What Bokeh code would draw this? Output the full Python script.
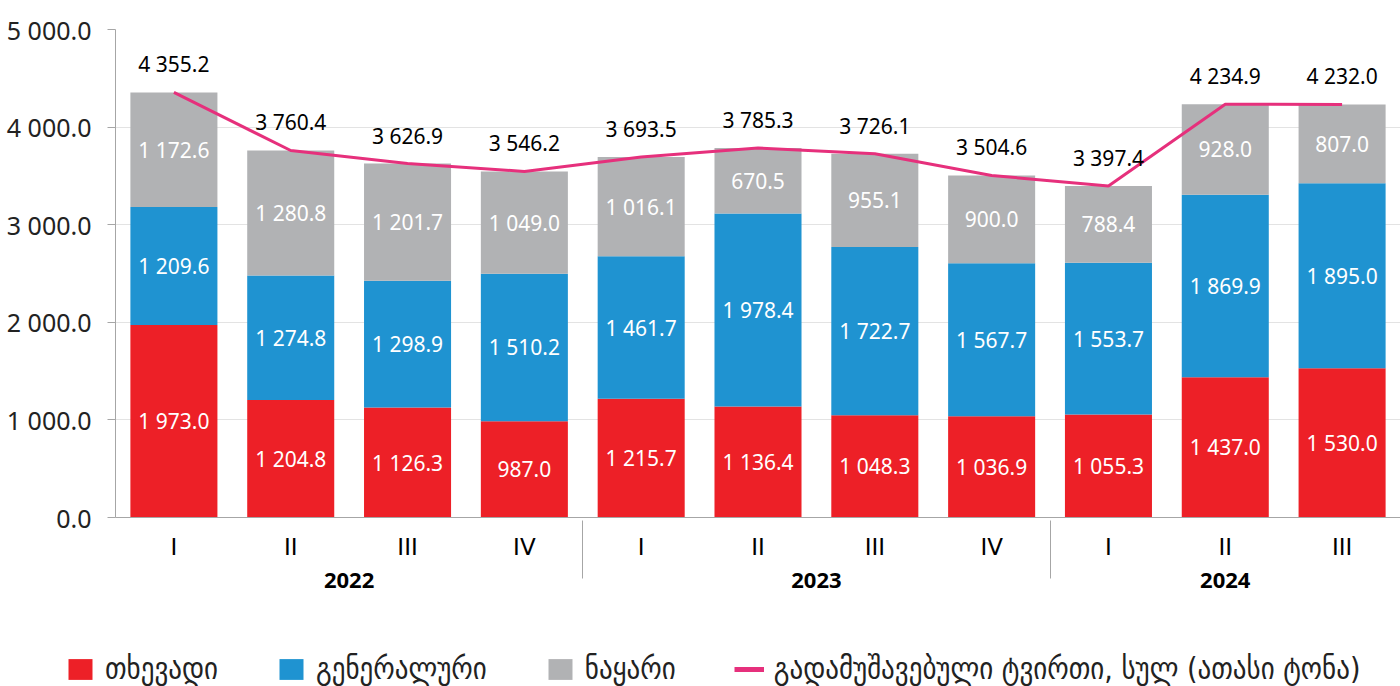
from bokeh.plotting import figure
from bokeh.models import FactorRange, ColumnDataSource, FixedTicker, CustomJSTickFormatter, Legend, LegendItem, Range1d
from bokeh.layouts import column, row
from bokeh.core.properties import value
from bokeh.embed import file_html
from bokeh.resources import INLINE

years = ["2022"] * 4 + ["2023"] * 4 + ["2024"] * 3
quarters = ["I", "II", "III", "IV", "I", "II", "III", "IV", "I", "II", "III"]
liquid = [1973.0, 1204.8, 1126.3, 987.0, 1215.7, 1136.4, 1048.3, 1036.9, 1055.3, 1437.0, 1530.0]
general = [1209.6, 1274.8, 1298.9, 1510.2, 1461.7, 1978.4, 1722.7, 1567.7, 1553.7, 1869.9, 1895.0]
bulk = [1172.6, 1280.8, 1201.7, 1049.0, 1016.1, 670.5, 955.1, 900.0, 788.4, 928.0, 807.0]
total = [4355.2, 3760.4, 3626.9, 3546.2, 3693.5, 3785.3, 3726.1, 3504.6, 3397.4, 4234.9, 4232.0]
series_names = ["თხევადი", "გენერალური", "ნაყარი", "გადამუშავებული ტვირთი, სულ (ათასი ტონა)"]

RED, BLUE, GRAY, PINK = "#ED2027", "#1F93D1", "#B1B2B4", "#E6307C"
NUM_FONT = "Noto Sans"
GEO_FONT = "'DejaVu Sans Condensed', 'DejaVu Sans'"
NAN = float("nan")


def fmt(v):
    return f"{v:,.1f}".replace(",", " ")


factors = list(zip(years, quarters))
x_range = FactorRange(*factors, group_padding=0, factor_padding=0, range_padding=0)

p = figure(x_range=x_range, y_range=Range1d(0, 5000), width=1400, height=640,
           output_backend="svg", toolbar_location=None,
           min_border_left=115, min_border_right=0, min_border_top=29, min_border_bottom=123)
p.outline_line_color = None
p.background_fill_color = "white"
p.border_fill_color = "white"

src = ColumnDataSource(dict(
    x=factors, liquid=liquid, general=general, bulk=bulk, total=total,
    y_l=[a / 2 for a in liquid],
    y_g=[a + b / 2 for a, b in zip(liquid, general)],
    y_b=[a + b + c / 2 for a, b, c in zip(liquid, general, bulk)],
    t_l=[fmt(v) for v in liquid], t_g=[fmt(v) for v in general],
    t_b=[fmt(v) for v in bulk], t_t=[fmt(v) for v in total],
))

bars = p.vbar_stack(["liquid", "general", "bulk"], x="x", width=0.745, source=src,
                    color=[RED, BLUE, GRAY], line_color=None)
ln = p.line(x="x", y="total", source=src, line_color=PINK, line_width=3)

for col, tcol in [("y_l", "t_l"), ("y_g", "t_g"), ("y_b", "t_b")]:
    p.text(x="x", y=col, text=tcol, source=src, text_color="white",
           text_align="center", text_baseline="middle", text_font_size="21px",
           text_font=value(NUM_FONT))
p.text(x="x", y="total", text="t_t", source=src, text_color="black",
       text_align="center", text_baseline="bottom", y_offset=-14,
       text_font_size="21px", text_font=value(NUM_FONT))

# y axis
p.yaxis.ticker = FixedTicker(ticks=[0, 1000, 2000, 3000, 4000, 5000])
p.yaxis.formatter = CustomJSTickFormatter(code="""
return tick.toFixed(1).replace(/\\B(?=(\\d{3})+(?!\\d))/g, ' ');
""")
p.yaxis.axis_line_color = "#A6A6A6"
p.yaxis.major_tick_line_color = "#A6A6A6"
p.yaxis.major_tick_out = 8
p.yaxis.major_tick_in = 0
p.yaxis.minor_tick_line_color = None
p.yaxis.major_label_text_font_size = "25px"
p.yaxis.major_label_text_font = NUM_FONT
p.yaxis.major_label_text_color = "#222222"
p.yaxis.major_label_standoff = 16
p.ygrid.grid_line_color = "#E3E3E3"
p.xgrid.grid_line_color = None

# x axis
xa = p.xaxis[0]
xa.axis_line_color = "#A6A6A6"
xa.major_tick_line_color = None
xa.minor_tick_line_color = None
xa.major_label_text_font_size = "23px"
xa.major_label_text_font = "DejaVu Sans"
xa.major_label_text_color = "black"
xa.major_label_standoff = 10
xa.group_text_font_size = "22px"
xa.group_text_font = NUM_FONT
xa.group_text_font_style = "bold"
xa.group_text_color = "black"
xa.group_text_line_height = 1.8
xa.separator_line_color = "#A6A6A6"
xa.separator_line_width = 1

# legend strip
lf = figure(x_range=Range1d(0, 1), y_range=Range1d(0, 1), width=1400, height=46,
            output_backend="svg", toolbar_location=None,
            min_border_left=0, min_border_right=0, min_border_top=0, min_border_bottom=0)
lf.axis.visible = False
lf.grid.visible = False
lf.outline_line_color = None
lf.background_fill_color = "white"
lf.border_fill_color = "white"
r1 = lf.vbar(x=[NAN], top=[NAN], width=0.5, color=RED, line_color=None)
r2 = lf.vbar(x=[NAN], top=[NAN], width=0.5, color=BLUE, line_color=None)
r3 = lf.vbar(x=[NAN], top=[NAN], width=0.5, color=GRAY, line_color=None)
r4 = lf.line(x=[NAN, NAN], y=[NAN, NAN], line_color=PINK, line_width=5)

legend = Legend(items=[
    LegendItem(label=series_names[0], renderers=[r1]),
    LegendItem(label=series_names[1], renderers=[r2]),
    LegendItem(label=series_names[2], renderers=[r3]),
    LegendItem(label=series_names[3], renderers=[r4]),
], orientation="horizontal", location=(65, 0))
legend.label_text_font = GEO_FONT
legend.label_text_font_size = "30px"
legend.label_text_color = "#222222"
legend.glyph_width = 30
legend.glyph_height = 26
legend.spacing = 58
legend.label_standoff = 10
legend.border_line_color = None
legend.background_fill_alpha = 0
legend.margin = 0
legend.padding = 0
lf.add_layout(legend)

open("out.html", "w").write(file_html(column(p, row(lf), spacing=0), INLINE))
